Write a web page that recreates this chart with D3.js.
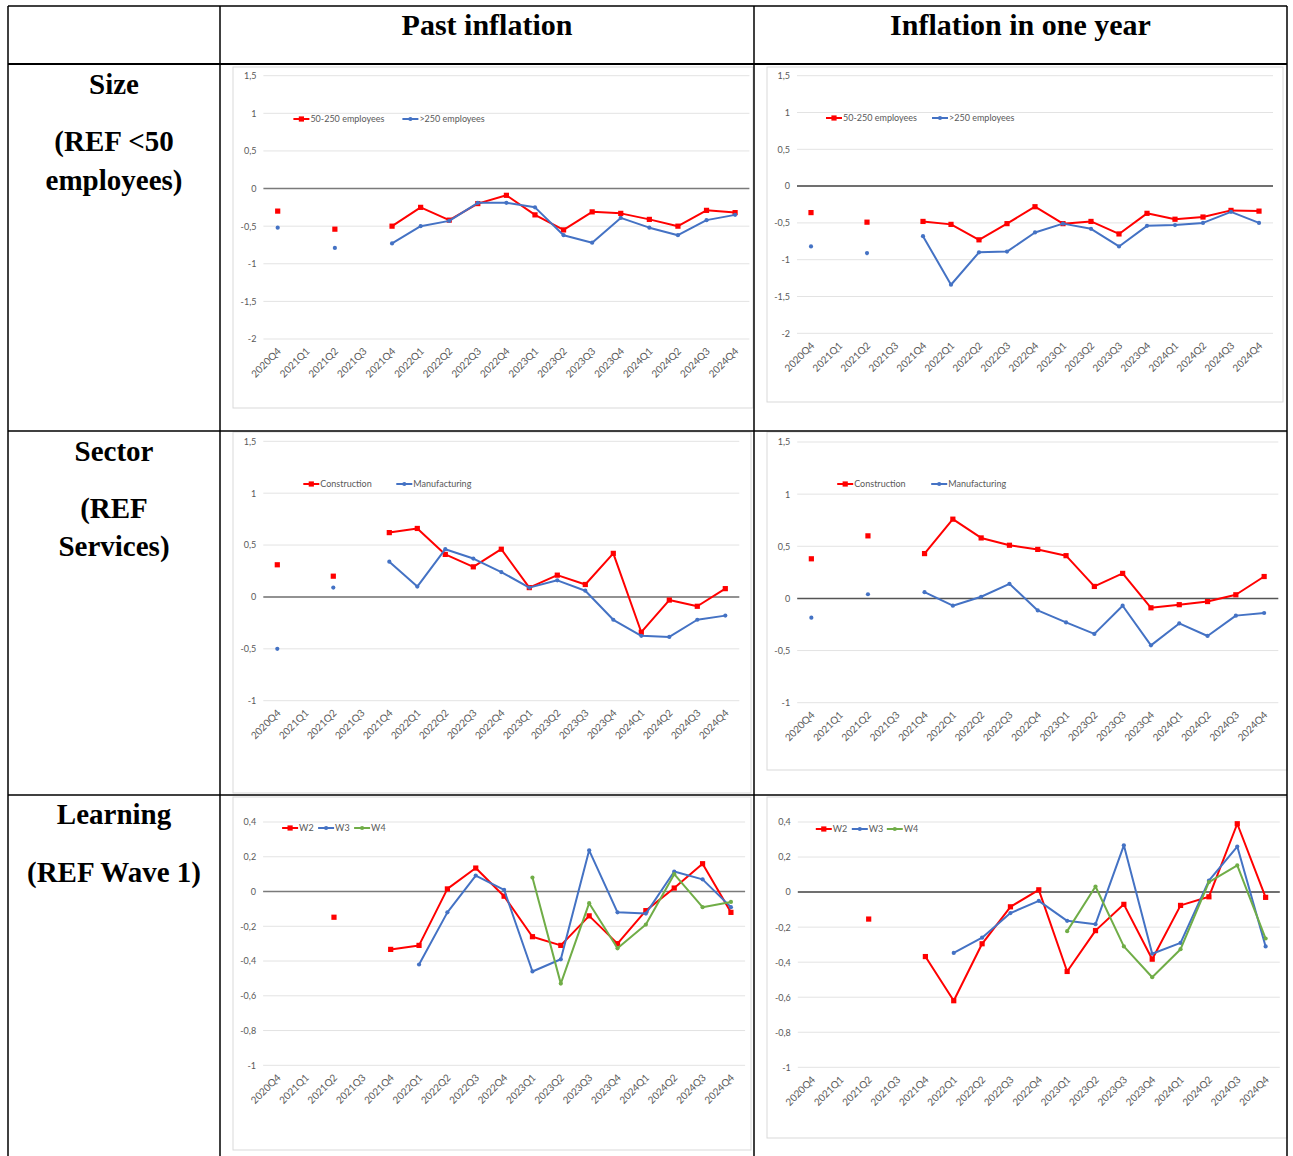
<!DOCTYPE html>
<html><head><meta charset="utf-8">
<script src="https://cdn.jsdelivr.net/npm/d3@7"></script>
<style>body{margin:0;background:#fff}</style>
</head><body><svg id="c" width="1293" height="1156"></svg>
<script>
const quarters = ["2020Q4","2021Q1","2021Q2","2021Q3","2021Q4","2022Q1","2022Q2","2022Q3","2022Q4","2023Q1","2023Q2","2023Q3","2023Q4","2024Q1","2024Q2","2024Q3","2024Q4"];

const colHeaders = ["Past inflation", "Inflation in one year"];
const rowLabels = [["Size", "(REF <50", "employees)"], ["Sector", "(REF", "Services)"], ["Learning", "(REF Wave 1)"]];

// Size
const sizeNames = ["50-250 employees", ">250 employees"];
const sizePastMid   = [-0.30,null,-0.54,null,-0.50,-0.25,-0.42,-0.20,-0.09,-0.35,-0.55,-0.31,-0.33,-0.41,-0.50,-0.29,-0.32];
const sizePastLarge = [-0.52,null,-0.79,null,-0.73,-0.50,-0.43,-0.19,-0.19,-0.25,-0.62,-0.72,-0.39,-0.52,-0.62,-0.42,-0.35];
const sizeFutMid    = [-0.36,null,-0.49,null,-0.48,-0.52,-0.73,-0.51,-0.28,-0.51,-0.48,-0.65,-0.37,-0.45,-0.42,-0.33,-0.34];
const sizeFutLarge  = [-0.82,null,-0.91,null,-0.68,-1.34,-0.90,-0.89,-0.63,-0.51,-0.58,-0.82,-0.54,-0.53,-0.50,-0.35,-0.50];

// Sector
const sectorNames = ["Construction", "Manufacturing"];
const sectorPastConstr = [0.31,null,0.20,null,0.62,0.66,0.41,0.29,0.46,0.09,0.21,0.12,0.42,-0.34,-0.03,-0.09,0.08];
const sectorPastManuf  = [-0.50,null,0.09,null,0.34,0.10,0.46,0.37,0.24,0.09,0.16,0.06,-0.22,-0.375,-0.385,-0.22,-0.18];
const sectorFutConstr  = [0.38,null,0.60,null,0.43,0.76,0.58,0.51,0.47,0.41,0.115,0.24,-0.09,-0.06,-0.03,0.035,0.21];
const sectorFutManuf   = [-0.185,null,0.04,null,0.06,-0.07,0.016,0.14,-0.115,-0.23,-0.34,-0.07,-0.45,-0.24,-0.36,-0.165,-0.14];

// Learning
const waveNames = ["W2", "W3", "W4"];
const learnPastW2 = [null,null,-0.148,null,-0.333,-0.31,0.015,0.135,-0.027,-0.26,-0.31,-0.14,-0.30,-0.11,0.02,0.16,-0.12];
const learnPastW3 = [null,null,null,null,null,-0.42,-0.12,0.092,0.01,-0.46,-0.39,0.237,-0.12,-0.127,0.115,0.07,-0.09];
const learnPastW4 = [null,null,null,null,null,null,null,null,null,0.08,-0.53,-0.067,-0.327,-0.19,0.10,-0.09,-0.06];
const learnFutW2  = [null,null,-0.154,null,-0.368,-0.62,-0.295,-0.084,0.013,-0.453,-0.22,-0.07,-0.383,-0.076,-0.027,0.39,-0.03];
const learnFutW3  = [null,null,null,null,null,-0.347,-0.26,-0.12,-0.05,-0.164,-0.183,0.267,-0.352,-0.29,0.065,0.26,-0.31];
const learnFutW4  = [null,null,null,null,null,null,null,null,null,-0.223,0.032,-0.31,-0.486,-0.326,0.057,0.152,-0.265];

const ticksSize = [1.5,1,0.5,0,-0.5,-1,-1.5,-2];
const ticksSector = [1.5,1,0.5,0,-0.5,-1];
const ticksLearn = [0.4,0.2,0,-0.2,-0.4,-0.6,-0.8,-1];

const RED = "#FF0000", BLUE = "#4472C4", GREEN = "#70AD47";

const panels = [
  {box:[233,67,520,341], plot:[263.4,749.4,75.7,339], dom:[-2,1.5], ticks:ticksSize, leg:[30,119], legGap:[0,109], zc:"#7a7a7a",
   series:[{name:sizeNames[0],v:sizePastMid,c:RED,m:"sq"},{name:sizeNames[1],v:sizePastLarge,c:BLUE,m:"ci"}]},
  {box:[767,67,516,335], plot:[797,1273,75.7,333.3], dom:[-2,1.5], ticks:ticksSize, leg:[29,118], legGap:[0,106], zc:"#404040",
   series:[{name:sizeNames[0],v:sizeFutMid,c:RED,m:"sq"},{name:sizeNames[1],v:sizeFutLarge,c:BLUE,m:"ci"}]},
  {box:[233,432,518,361], plot:[263.3,739.3,441.3,700.7], dom:[-1,1.5], ticks:ticksSector, leg:[40,484], legGap:[0,93], zc:"#6e6e6e",
   series:[{name:sectorNames[0],v:sectorPastConstr,c:RED,m:"sq"},{name:sectorNames[1],v:sectorPastManuf,c:BLUE,m:"ci"}]},
  {box:[767,432,520,338], plot:[797.2,1278.3,442,702.7], dom:[-1,1.5], ticks:ticksSector, leg:[40,484], legGap:[0,94], zc:"#555555",
   series:[{name:sectorNames[0],v:sectorFutConstr,c:RED,m:"sq"},{name:sectorNames[1],v:sectorFutManuf,c:BLUE,m:"ci"}]},
  {box:[233,797,518,353], plot:[263.1,745.1,822,1065.3], dom:[-1,0.4], ticks:ticksLearn, leg:[19,828], legGap:[0,36,72], zc:"#7a7a7a",
   series:[{name:waveNames[0],v:learnPastW2,c:RED,m:"sq"},{name:waveNames[1],v:learnPastW3,c:BLUE,m:"ci"},{name:waveNames[2],v:learnPastW4,c:GREEN,m:"ci"}]},
  {box:[767,797,520,341], plot:[797.8,1279.8,822,1067.3], dom:[-1,0.4], ticks:ticksLearn, leg:[18,829], legGap:[0,36,71], zc:"#404040",
   series:[{name:waveNames[0],v:learnFutW2,c:RED,m:"sq"},{name:waveNames[1],v:learnFutW3,c:BLUE,m:"ci"},{name:waveNames[2],v:learnFutW4,c:GREEN,m:"ci"}]}
];

const svg = d3.select("#c");
const CF = "Lato, 'Open Sans', sans-serif";
const fmt = d => String(+d.toFixed(1)).replace(".", ",");

function marker(g, m, x, y, c) {
  if (m === "sq") g.append("rect").attr("x", x-2.6).attr("y", y-2.6).attr("width", 5.2).attr("height", 5.2).attr("fill", c);
  else g.append("circle").attr("cx", x).attr("cy", y).attr("r", 2.1).attr("fill", c);
}

panels.forEach(p => {
  const g = svg.append("g");
  const [bx, by, bw, bh] = p.box;
  g.append("rect").attr("x", bx).attr("y", by).attr("width", bw).attr("height", bh)
    .attr("fill", "#fff").attr("stroke", "#d9d9d9").attr("stroke-width", 1);
  const [l, r, t, b] = p.plot;
  const x = d3.scaleBand().domain(quarters).range([l, r]);
  const cx = q => x(q) + x.bandwidth()/2;
  const y = d3.scaleLinear().domain(p.dom).range([b, t]);
  g.selectAll(".grid").data(p.ticks.filter(d => d !== 0)).join("line")
    .attr("x1", l).attr("x2", r).attr("y1", d => y(d)).attr("y2", d => y(d))
    .attr("stroke", "#e3e3e3").attr("stroke-width", 1);
  const ya = d3.axisLeft(y).tickValues(p.ticks).tickFormat(fmt).tickSize(0).tickPadding(7);
  const yg = g.append("g").attr("transform", `translate(${l},0)`).call(ya);
  yg.select(".domain").remove();
  yg.selectAll("text").attr("fill", "#595959").style("font-family", CF).style("font-size", "9px");
  g.append("line").attr("x1", l).attr("x2", r).attr("y1", y(0)).attr("y2", y(0))
    .attr("stroke", p.zc).attr("stroke-width", 1.5);
  g.selectAll(".xl").data(quarters).join("text")
    .attr("transform", q => `translate(${cx(q)+4},${b+13}) rotate(-45)`)
    .attr("text-anchor", "end").attr("fill", "#595959")
    .style("font-family", CF).style("font-size", "10px").text(q => q);
  p.series.forEach(s => {
    const pts = quarters.map((q, i) => ({q, v: s.v[i]}));
    const line = d3.line().defined(d => d.v !== null).x(d => cx(d.q)).y(d => y(d.v));
    g.append("path").datum(pts).attr("d", line).attr("fill", "none")
      .attr("stroke", s.c).attr("stroke-width", 2).attr("stroke-linejoin", "round");
    pts.filter(d => d.v !== null).forEach(d => marker(g, s.m, cx(d.q), y(d.v), s.c));
  });
  p.series.forEach((s, i) => {
    const lx = l + p.leg[0] + p.legGap[i], ly = p.leg[1];
    g.append("line").attr("x1", lx).attr("x2", lx+16).attr("y1", ly).attr("y2", ly)
      .attr("stroke", s.c).attr("stroke-width", 2);
    marker(g, s.m, lx+8, ly, s.c);
    g.append("text").attr("x", lx+17).attr("y", ly+3.3).attr("fill", "#595959")
      .style("font-family", CF).style("font-size", "9px").text(s.name);
  });
});

// table
const T = svg.append("g");
const SF = "'Liberation Serif', 'Times New Roman', serif";
const colX = [8, 220, 754, 1287];
const rowY = [6, 64, 431, 795];
colX.forEach(cxv => T.append("line").attr("x1", cxv).attr("x2", cxv).attr("y1", 6).attr("y2", 1156).attr("stroke", "#000").attr("stroke-width", 1.5));
rowY.forEach(ry => T.append("line").attr("x1", 8).attr("x2", 1287).attr("y1", ry).attr("y2", ry).attr("stroke", "#000").attr("stroke-width", ry === 64 ? 2 : 1.5));
colHeaders.forEach((h, i) => {
  T.append("text").attr("x", (colX[i+1] + colX[i+2]) / 2).attr("y", 35).attr("text-anchor", "middle")
    .style("font-family", SF).style("font-weight", "bold").style("font-size", "30px").text(h);
});
const rowLineY = [[94, 151, 190], [461, 518, 556], [824, 882]];
rowLabels.forEach((lines, i) => {
  lines.forEach((t, j) => {
    T.append("text").attr("x", 114).attr("y", rowLineY[i][j]).attr("text-anchor", "middle")
      .style("font-family", SF).style("font-weight", "bold").style("font-size", "29px").text(t);
  });
});
</script>
</body></html>
